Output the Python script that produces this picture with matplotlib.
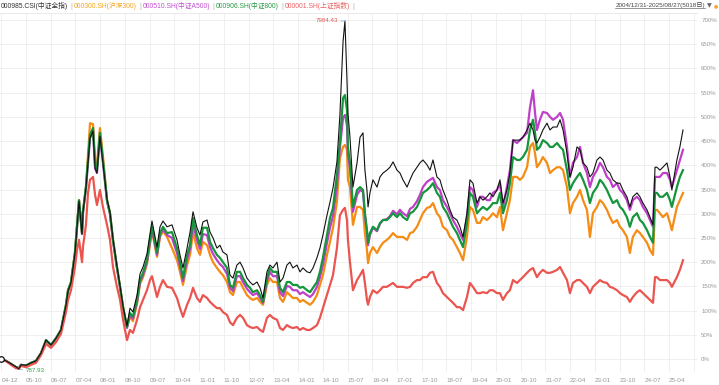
import matplotlib
matplotlib.use("Agg")
import matplotlib.pyplot as plt

# ---------------- data (percent change since 2004-12-31, trading-day index) ----------------
day = [0, 35, 71, 108, 130, 145, 182, 219, 255, 292, 329, 366, 403, 439, 476, 491, 513, 542, 557, 572,
       594, 601, 623, 638, 653, 675, 690, 704, 726, 748, 778, 800, 822, 851, 874, 896, 925, 947, 969, 999,
       1021, 1043, 1072, 1094, 1109, 1146, 1168, 1190, 1220, 1256, 1293, 1315, 1337, 1367, 1389, 1411, 1440,
       1462, 1484, 1514, 1536, 1558, 1587, 1609, 1631, 1661, 1683, 1705, 1734, 1757, 1779, 1808, 1830, 1852,
       1882, 1904, 1926, 1955, 1977, 1999, 2029, 2051, 2073, 2102, 2124, 2146, 2176, 2198, 2220, 2250, 2272,
       2294, 2323, 2345, 2367, 2397, 2419, 2441, 2470, 2492, 2515, 2529, 2544, 2551, 2566, 2588, 2618, 2640,
       2662, 2676, 2691, 2699, 2713, 2735, 2765, 2787, 2809, 2838, 2860, 2883, 2912, 2934, 2956, 2986, 3008,
       3030, 3059, 3081, 3103, 3133, 3155, 3177, 3206, 3228, 3250, 3280, 3302, 3324, 3353, 3375, 3398, 3427,
       3449, 3471, 3501, 3523, 3545, 3574, 3596, 3618, 3648, 3670, 3692, 3721, 3743, 3766, 3795, 3817, 3839,
       3869, 3891, 3913, 3928, 3942, 3964, 3986, 4016, 4038, 4060, 4090, 4112, 4134, 4163, 4185, 4207, 4237,
       4259, 4281, 4310, 4332, 4354, 4384, 4406, 4428, 4457, 4479, 4501, 4531, 4553, 4575, 4604, 4626, 4648,
       4678, 4700, 4722, 4752, 4774, 4796, 4811, 4825, 4847, 4869, 4899, 4921, 4935, 4972, 4994, 5017]

csi_all = [0, -4, -10, -16, -21, -12, -13, -8, -4, 12, 39, 29, 43, 60, 110, 140, 157, 217, 271, 326,
           258, 302, 353, 405, 456, 471, 394, 384, 460, 405, 330, 303, 248, 192, 151, 109, 68, 105, 97, 132,
           176, 190, 217, 258, 285, 231, 273, 285, 273, 277, 246, 215, 188, 229, 262, 304, 271,
           256, 283, 287, 262, 250, 229, 235, 221, 215, 173, 167, 194, 200, 188, 167, 159, 153,
           159, 147, 126, 180, 194, 188, 200, 159, 167, 194, 200, 188, 194, 180, 188, 180, 178,
           188, 209, 229, 256, 297, 324, 353, 407, 504, 655, 698, 576, 508, 458, 355, 405, 458,
           467, 390, 349, 314, 343, 370, 355, 376, 384, 390, 396, 407, 390, 384, 370, 355, 370,
           384, 396, 405, 411, 401, 390, 411, 376, 370, 349, 328, 308, 293, 287, 273, 252, 301,
           370, 363, 322, 335, 328, 335, 343, 335, 349, 370, 322, 349, 384, 452, 452, 452, 458,
           473, 487, 473, 452, 446, 458, 473, 487, 473, 479, 479, 494, 473, 425, 376, 396, 438,
           432, 405, 396, 376, 384, 411, 417, 411, 390, 384, 370, 363, 363, 349, 335, 314, 335,
           343, 335, 322, 308, 293, 277, 396, 396, 390, 396, 405, 376, 349, 411, 438, 473]

hs300 = [0, -4, -10, -17, -19, -12, -14, -8, -4, 12, 37, 27, 41, 58, 112, 142, 159, 219, 273, 328,
         260, 304, 355, 421, 487, 485, 411, 401, 477, 419, 328, 301, 246, 190, 149, 107, 66, 87, 78, 114,
         155, 169, 196, 237, 264, 211, 252, 264, 252, 229, 204, 180, 153, 194, 215, 262, 229,
         215, 242, 235, 215, 200, 188, 180, 173, 159, 138, 132, 159, 159, 147, 132, 126, 122,
         126, 118, 112, 153, 167, 159, 159, 126, 118, 138, 132, 126, 126, 118, 122, 116, 112,
         118, 132, 153, 173, 215, 242, 271, 324, 415, 438, 442, 432, 370, 355, 277, 314, 314,
         308, 260, 225, 198, 219, 231, 219, 231, 240, 246, 252, 260, 252, 252, 252, 246, 260,
         262, 273, 287, 301, 312, 314, 322, 301, 293, 273, 266, 252, 246, 231, 219, 204, 252,
         314, 308, 281, 281, 293, 287, 293, 301, 293, 314, 266, 301, 328, 376, 376, 370, 376,
         396, 438, 446, 425, 396, 405, 417, 405, 384, 390, 396, 396, 390, 355, 301, 322, 335,
         349, 328, 308, 252, 301, 314, 328, 322, 308, 293, 281, 287, 273, 266, 252, 219, 252,
         266, 260, 252, 240, 225, 215, 308, 308, 301, 293, 301, 281, 266, 314, 328, 343]

a500 = [0, -4, -10, -17, -19, -12, -14, -8, -4, 12, 39, 29, 43, 60, 110, 140, 157, 217, 271, 326,
        258, 302, 353, 405, 456, 471, 394, 384, 460, 405, 326, 299, 244, 188, 147, 105, 64, 91, 83, 118,
        159, 173, 200, 242, 268, 215, 256, 268, 256, 250, 219, 192, 161, 206, 227, 279, 246,
        227, 258, 256, 231, 217, 204, 196, 190, 176, 147, 140, 171, 171, 159, 145, 138, 132,
        136, 126, 116, 161, 180, 171, 171, 138, 130, 151, 149, 142, 142, 134, 138, 132, 128,
        134, 149, 169, 194, 240, 271, 295, 357, 436, 498, 504, 483, 421, 394, 304, 339, 349,
        345, 297, 262, 235, 256, 271, 264, 279, 287, 289, 295, 306, 299, 308, 301, 295, 310,
        314, 326, 339, 355, 366, 370, 374, 355, 349, 328, 314, 301, 287, 273, 260, 246, 293,
        355, 349, 314, 335, 335, 328, 328, 343, 349, 363, 314, 355, 390, 452, 446, 452, 458,
        467, 520, 555, 508, 473, 494, 510, 508, 500, 494, 500, 508, 494, 438, 376, 405, 417,
        438, 405, 384, 355, 376, 390, 405, 396, 376, 370, 355, 363, 349, 343, 328, 308, 328,
        335, 328, 314, 301, 287, 273, 376, 376, 376, 384, 384, 370, 355, 390, 411, 432]

csi800 = [0, -4, -10, -17, -19, -12, -14, -8, -4, 12, 39, 29, 43, 60, 112, 142, 159, 219, 273, 328,
          260, 304, 355, 411, 463, 477, 401, 390, 467, 411, 328, 301, 246, 190, 149, 107, 66, 95, 87, 122,
          163, 178, 204, 246, 273, 219, 260, 273, 260, 262, 229, 200, 167, 215, 235, 291, 256,
          235, 271, 271, 242, 229, 215, 209, 200, 188, 153, 147, 180, 180, 167, 153, 147, 138,
          142, 132, 118, 167, 188, 180, 180, 147, 138, 159, 159, 153, 153, 147, 149, 142, 138,
          147, 159, 180, 209, 256, 291, 312, 380, 448, 539, 545, 514, 438, 405, 314, 349, 355,
          349, 301, 266, 240, 260, 273, 266, 281, 287, 287, 293, 301, 293, 301, 293, 287, 301,
          304, 314, 328, 343, 349, 355, 363, 343, 335, 314, 301, 287, 273, 260, 246, 231, 281,
          343, 335, 301, 308, 314, 308, 314, 322, 322, 343, 301, 328, 363, 417, 411, 411, 417,
          432, 473, 494, 467, 432, 438, 452, 446, 438, 438, 446, 438, 432, 390, 349, 363, 376,
          384, 370, 349, 322, 343, 355, 370, 363, 349, 335, 322, 328, 314, 308, 293, 273, 293,
          301, 287, 281, 266, 252, 240, 343, 343, 335, 335, 343, 328, 314, 355, 376, 390]

sse = [0, -4, -12, -19, -20, -14, -17, -12, -8, 8, 31, 23, 35, 52, 97, 122, 142, 190, 225, 246,
       200, 231, 277, 343, 370, 376, 339, 318, 349, 314, 277, 246, 190, 149, 122, 81, 39, 60, 54, 81,
       107, 122, 142, 163, 171, 128, 149, 163, 149, 147, 126, 105, 87, 112, 126, 147, 126,
       118, 132, 126, 118, 112, 105, 105, 97, 91, 76, 70, 85, 91, 85, 70, 66, 64,
       66, 60, 56, 85, 91, 85, 81, 64, 60, 70, 66, 64, 66, 60, 64, 60, 60,
       64, 70, 85, 105, 132, 153, 173, 229, 297, 308, 312, 287, 246, 200, 142, 163, 173,
       184, 157, 122, 112, 128, 142, 136, 142, 149, 149, 153, 157, 149, 149, 149, 147, 149,
       157, 163, 163, 169, 169, 178, 180, 157, 149, 136, 128, 122, 116, 107, 107, 101, 128,
       157, 149, 136, 136, 138, 136, 142, 142, 136, 136, 122, 136, 142, 163, 157, 163, 169,
       178, 184, 188, 178, 169, 178, 184, 178, 178, 180, 184, 190, 178, 163, 136, 157, 163,
       163, 157, 149, 136, 149, 157, 163, 159, 157, 149, 147, 142, 136, 132, 128, 118, 128,
       138, 142, 136, 128, 122, 116, 169, 169, 163, 163, 163, 157, 149, 169, 184, 204]

series = [
    ("000985.CSI(中证全指)", csi_all, "#111111", 0.8, 6),
    ("000300.SH(沪深300)", hs300, "#f58c14", 1.6, 2),
    ("000510.SH(中证A500)", a500, "#bf40c8", 1.6, 3),
    ("000906.SH(中证800)", csi800, "#16963c", 1.6, 4),
    ("000001.SH(上证指数)", sse, "#eb5550", 1.6, 5),
]
legend_colors = ["#333333", "#f5a623", "#c050d0", "#2a9a4a", "#e86060"]

tick_step = 182
tick_labels = ["04-12", "05-10", "06-07", "07-04", "08-01", "08-10", "09-07", "10-04", "11-01",
               "11-10", "12-07", "13-04", "14-01", "14-10", "15-07", "16-04", "17-01", "17-10",
               "18-07", "19-04", "20-01", "20-10", "21-07", "22-04", "23-01", "23-10", "24-07", "25-04"]
y_ticks = list(range(0, 701, 50))
peak_label = "7984.43"
min_label = "787.93"
range_label = "2004/12/31-2025/08/27(5018日)"

# ---------------- figure ----------------
W, H = 719, 385
fig = plt.figure(figsize=(W / 100, H / 100), dpi=100)
ax_left, ax_right, ax_top, ax_bottom = 0, 697, 13, 372
ax = fig.add_axes([ax_left / W, 1 - ax_bottom / H, (ax_right - ax_left) / W, (ax_bottom - ax_top) / H])

px_per_day = 0.13588
ax.set_xlim(-1.3 / px_per_day, (ax_right - 1.3) / px_per_day)
ax.set_ylim((359 - ax_bottom) * 2.065, (359 - ax_top) * 2.065)

for name, vals, col, lw, z in series:
    ax.plot(day, vals, color=col, lw=lw, zorder=z, solid_joinstyle="round")

# start marker
ax.plot([day[0]], [csi_all[0]], marker="o", ms=4, mfc="white", mec="#111111", mew=0.9, zorder=7)

# grid
xt = [i * tick_step for i in range(len(tick_labels) + 1)]
for x in xt:
    ax.axvline(x, color="#ececec", lw=0.6, zorder=0)
for y in y_ticks:
    ax.axhline(y, color="#ececec", lw=0.6, zorder=0)

for s in ["left", "bottom", "right"]:
    ax.spines[s].set_visible(False)
ax.spines["top"].set_color("#e6e6e6")
ax.spines["top"].set_linewidth(0.6)

ax.set_xticks(xt[:len(tick_labels)])
ax.set_xticklabels(tick_labels, fontsize=4.6, color="#9a9a9a", ha="left", family="Liberation Sans")
ax.tick_params(axis="x", length=0, pad=4)

ax.yaxis.tick_right()
ax.set_yticks(y_ticks)
ax.set_yticklabels([f"{v}%" for v in y_ticks], fontsize=4.4, color="#9a9a9a", family="Liberation Sans")
ax.tick_params(axis="y", length=0, pad=3)

# annotations
ipk = csi_all.index(max(csi_all))
ax.annotate(peak_label, xy=(day[ipk], csi_all[ipk]), xytext=(-5, 0), textcoords="offset points",
            ha="right", va="center", fontsize=4.4, color="#e05555", family="Liberation Sans",
            arrowprops=dict(arrowstyle="-", color="#8ab4e0", lw=0.6, shrinkA=0, shrinkB=0), zorder=8)
imn = csi_all.index(min(csi_all))
ax.annotate(min_label, xy=(day[imn], csi_all[imn]), xytext=(4.5, -1), textcoords="offset points",
            ha="left", va="center", fontsize=4.4, color="#2e9e4e", family="Liberation Sans",
            arrowprops=dict(arrowstyle="-", color="#8ab4e0", lw=0.6, shrinkA=0, shrinkB=0), zorder=8)

# legend-like header
fam = ["Liberation Sans", "Noto Sans CJK SC", "DejaVu Sans"]
renderer = fig.canvas.get_renderer()
xpos = 1
ypos = H - 6
for i, (name, vals, col, lw, z) in enumerate(series):
    t = fig.text(xpos / W, ypos / H, name, fontsize=4.9, color=legend_colors[i], family=fam,
                 ha="left", va="center")
    bb = t.get_window_extent(renderer)
    xpos = bb.x1 + 2
    t2 = fig.text(xpos / W, ypos / H, "|", fontsize=4.9, color="#b0b0b0", family=fam,
                  ha="left", va="center")
    bb = t2.get_window_extent(renderer)
    xpos = bb.x1 + 2

# date range at top-right
tr = fig.text(705 / W, (H - 5.5) / H, range_label, fontsize=4.5, color="#444444", family=fam,
              ha="right", va="center")
bb = tr.get_window_extent(renderer)
fig.add_artist(plt.Line2D([bb.x0 / W, bb.x1 / W], [(bb.y0 + 0.3) / H, (bb.y0 + 0.3) / H],
                          color="#444444", lw=0.4))
fig.text(707 / W, (H - 5.5) / H, "▼", fontsize=4.5, color="#666666", family=["DejaVu Sans"],
         ha="left", va="center")
fig.text(714 / W, (H - 5.5) / H, "●", fontsize=3.5, color="#f5a623", family=["DejaVu Sans"],
         ha="left", va="center")

fig.savefig("out.png", dpi=100)
